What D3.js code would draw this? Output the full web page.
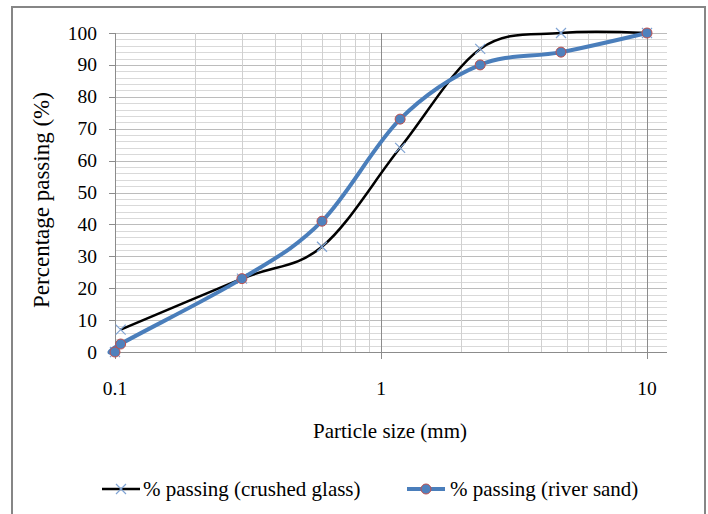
<!DOCTYPE html>
<html>
<head>
<meta charset="utf-8">
<script src="https://cdn.jsdelivr.net/npm/d3@7"></script>
<style>
  body { margin: 0; background: #fff; }
  svg text { font-family: "Liberation Serif", "Times New Roman", serif; fill: #000; }
</style>
</head>
<body>
<div id="chart"></div>
<script>
// sieve sizes (mm) and % passing
var sizes = [0.1, 0.105, 0.3, 0.6, 1.18, 2.36, 4.75, 10];
var glass = [0, 7, 23, 33, 64, 95, 100, 100];
var sand = [0, 2.5, 23, 41, 73, 90, 94, 100];
var yTicks = [0, 10, 20, 30, 40, 50, 60, 70, 80, 90, 100];
var xTicks = [0.1, 1, 10];
var xTickLabels = ["0.1", "1", "10"];
var seriesNames = ["% passing (crushed glass)", "% passing (river sand)"];

var W = 708, H = 514;
var plotL = 115, plotR = 667, plotT = 33, plotB = 352;

var svg = d3.select("#chart").append("svg")
    .attr("width", W)
    .attr("height", H);

// outer chart border
svg.append("rect")
    .attr("x", 12).attr("y", 7)
    .attr("width", 693).attr("height", 520)
    .attr("fill", "#fff")
    .attr("stroke", "#868686")
    .attr("stroke-width", 2);

var x = d3.scaleLog().domain([0.1, 10]).range([plotL, 647]);
var y = d3.scaleLinear().domain([0, 100]).range([plotB, plotT]);

var grid = svg.append("g");

// horizontal gridlines every 2 %
var hLines = d3.range(0, 101, 2);
grid.selectAll(".hgrid")
    .data(hLines)
    .enter().append("line")
    .attr("x1", plotL).attr("x2", plotR)
    .attr("y1", function(d) { return Math.round(y(d)) + 0.5; })
    .attr("y2", function(d) { return Math.round(y(d)) + 0.5; })
    .attr("stroke", function(d) { return d % 10 === 0 ? "#bcbcbc" : "#d9d9d9"; })
    .attr("stroke-width", 1);

// vertical minor gridlines (log)
var vMinor = [];
[0.1, 1].forEach(function(dec) {
    for (var k = 2; k <= 9; k++) vMinor.push(dec * k);
});
grid.selectAll(".vgrid")
    .data(vMinor)
    .enter().append("line")
    .attr("x1", function(d) { return Math.round(x(d)) + 0.5; })
    .attr("x2", function(d) { return Math.round(x(d)) + 0.5; })
    .attr("y1", plotT).attr("y2", plotB)
    .attr("stroke", "#d0d0d0");

// major vertical lines + ticks
grid.selectAll(".vmajor")
    .data(xTicks)
    .enter().append("line")
    .attr("x1", function(d) { return Math.round(x(d)) + 0.5; })
    .attr("x2", function(d) { return Math.round(x(d)) + 0.5; })
    .attr("y1", plotT).attr("y2", plotB + 7)
    .attr("stroke", "#8c8c8c");

// x axis line
grid.append("line")
    .attr("x1", plotL).attr("x2", plotR)
    .attr("y1", plotB + 0.5).attr("y2", plotB + 0.5)
    .attr("stroke", "#8c8c8c");

// y tick marks
grid.selectAll(".ytick")
    .data(yTicks)
    .enter().append("line")
    .attr("x1", plotL - 6).attr("x2", plotL)
    .attr("y1", function(d) { return Math.round(y(d)) + 0.5; })
    .attr("y2", function(d) { return Math.round(y(d)) + 0.5; })
    .attr("stroke", "#8c8c8c");

// y tick labels
svg.selectAll(".ylab")
    .data(yTicks)
    .enter().append("text")
    .attr("x", 97)
    .attr("y", function(d) { return y(d) + 6.5; })
    .attr("text-anchor", "end")
    .style("font-size", "19.5px")
    .text(function(d) { return d; });

// x tick labels
svg.selectAll(".xlab")
    .data(xTicks)
    .enter().append("text")
    .attr("x", function(d) { return x(d); })
    .attr("y", 395)
    .attr("text-anchor", "middle")
    .style("font-size", "19.5px")
    .text(function(d, i) { return xTickLabels[i]; });

// axis titles
svg.append("text")
    .attr("x", 390).attr("y", 438)
    .attr("text-anchor", "middle")
    .style("font-size", "21px")
    .text("Particle size (mm)");

svg.append("text")
    .attr("transform", "translate(49,200) rotate(-90)")
    .attr("text-anchor", "middle")
    .style("font-size", "23px")
    .text("Percentage passing (%)");

// series data
var glassPts = sizes.map(function(s, i) { return [s, glass[i]]; });
var sandPts = sizes.map(function(s, i) { return [s, sand[i]]; });

var line = d3.line()
    .x(function(d) { return x(d[0]); })
    .y(function(d) { return y(d[1]); })
    .curve(d3.curveCatmullRom.alpha(0));

var blueLine = "#4a7ebb", markerBlue = "#4f81bd", markerRed = "#c0504d", crossBlue = "#7fa3d3";

svg.append("path")
    .datum(glassPts.slice(1))
    .attr("d", line)
    .attr("fill", "none")
    .attr("stroke", "#000")
    .attr("stroke-width", 2.5);

function cross(g, cx, cy) {
    g.append("path")
        .attr("d", "M" + (cx - 5) + "," + (cy - 5) + "L" + (cx + 5) + "," + (cy + 5) +
                   "M" + (cx - 5) + "," + (cy + 5) + "L" + (cx + 5) + "," + (cy - 5))
        .attr("stroke", crossBlue)
        .attr("stroke-width", 1.2)
        .attr("fill", "none");
}

glassPts.forEach(function(d) { cross(svg, x(d[0]), y(d[1])); });

svg.append("path")
    .datum(sandPts)
    .attr("d", line)
    .attr("fill", "none")
    .attr("stroke", blueLine)
    .attr("stroke-width", 4);

svg.selectAll(".sandpt")
    .data(sandPts)
    .enter().append("circle")
    .attr("cx", function(d) { return x(d[0]); })
    .attr("cy", function(d) { return y(d[1]); })
    .attr("r", 5)
    .attr("fill", markerBlue)
    .attr("stroke", markerRed)
    .attr("stroke-width", 1);

// legend
var leg = svg.append("g");
leg.append("line")
    .attr("x1", 102).attr("x2", 140).attr("y1", 489).attr("y2", 489)
    .attr("stroke", "#000").attr("stroke-width", 2.5);
cross(leg, 121, 489);
leg.append("text")
    .attr("x", 143).attr("y", 496)
    .style("font-size", "21px")
    .text(seriesNames[0]);

leg.append("line")
    .attr("x1", 407).attr("x2", 445).attr("y1", 489).attr("y2", 489)
    .attr("stroke", blueLine).attr("stroke-width", 4);
leg.append("circle")
    .attr("cx", 426).attr("cy", 489).attr("r", 5)
    .attr("fill", markerBlue).attr("stroke", markerRed);
leg.append("text")
    .attr("x", 450).attr("y", 496)
    .style("font-size", "21px")
    .text(seriesNames[1]);
</script>
</body>
</html>
